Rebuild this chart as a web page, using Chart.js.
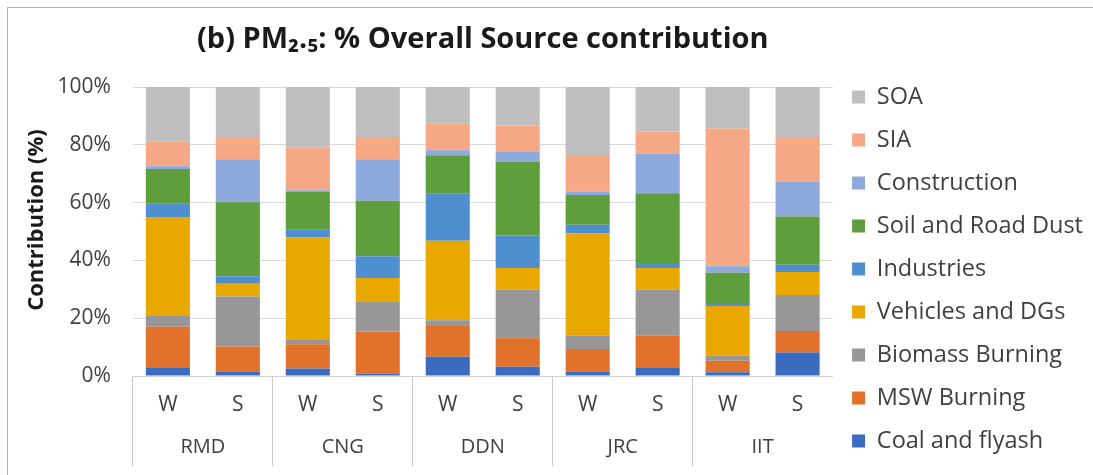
<!DOCTYPE html>
<html>
<head>
<meta charset="utf-8">
<script src="https://cdn.jsdelivr.net/npm/chart.js@4.4.1/dist/chart.umd.min.js"></script>
<style>
  html, body { margin: 0; padding: 0; background: #fff; overflow: hidden; }
  #wrap { position: relative; width: 1093px; height: 475px; }
  #frame { position: absolute; left: 7px; top: 7px; width: 1200px; height: 600px; border: 1px solid #b0b0b0; box-sizing: border-box; pointer-events: none; }
  canvas { position: absolute; left: 0; top: 0; }
</style>
</head>
<body>
<div id="wrap">
  <canvas id="c" width="1093" height="475"></canvas>
  <div id="frame"></div>
</div>
<script>
const sites = ['RMD', 'CNG', 'DDN', 'JRC', 'IIT'];
const seasons = ['W', 'S', 'W', 'S', 'W', 'S', 'W', 'S', 'W', 'S'];

const coalFlyash   = [3.0, 1.6, 2.6, 0.9, 6.7, 3.2, 1.6, 2.8, 1.3, 8.1];
const mswBurning   = [14.0, 8.6, 8.4, 14.5, 10.6, 9.9, 7.7, 11.1, 4.0, 7.5];
const biomass      = [4.0, 17.3, 1.7, 10.5, 2.0, 16.8, 4.6, 16.0, 1.7, 12.4];
const vehiclesDGs  = [34.0, 4.4, 35.2, 8.0, 27.5, 7.5, 35.5, 7.5, 17.2, 8.0];
const industries   = [4.6, 2.6, 2.7, 7.5, 16.4, 11.2, 2.9, 1.7, 1.1, 2.5];
const soilRoadDust = [12.0, 25.6, 13.2, 19.2, 13.2, 25.5, 10.3, 24.1, 10.4, 16.7];
const construction = [1.0, 14.9, 0.5, 14.4, 1.7, 3.4, 1.2, 13.8, 2.3, 12.0];
const sia          = [8.6, 7.7, 14.7, 7.7, 9.2, 9.2, 12.3, 7.6, 47.6, 15.5];
const soa          = [18.8, 17.3, 21.0, 17.3, 12.7, 13.3, 23.9, 15.4, 14.4, 17.3];

const yTicks = [0, 20, 40, 60, 80, 100];

const series = [
  ['Coal and flyash', coalFlyash, '#3b6bbf'],
  ['MSW Burning', mswBurning, '#e2712b'],
  ['Biomass Burning', biomass, '#979797'],
  ['Vehicles and DGs', vehiclesDGs, '#e8a800'],
  ['Industries', industries, '#4f8fd0'],
  ['Soil and Road Dust', soilRoadDust, '#5e9e3c'],
  ['Construction', construction, '#8ea9db'],
  ['SIA', sia, '#f4a886'],
  ['SOA', soa, '#bfbfbf']
];

const FONT = "'Open Sans', 'Liberation Sans', sans-serif";

new Chart(document.getElementById('c'), {
  type: 'bar',
  data: {
    labels: seasons,
    datasets: series.map(([label, data, color]) => ({
      label, data, backgroundColor: color, borderWidth: 0,
      barPercentage: 0.63, categoryPercentage: 1.0
    }))
  },
  options: {
    responsive: false,
    animation: false,
    layout: { padding: { left: 0, right: 0, top: 0, bottom: 0 } },
    plugins: {
      title: {
        display: true,
        fullSize: false,
        text: '(b) PM\u2082.\u2085: % Overall Source contribution',
        color: '#1a1a1a',
        font: { family: FONT, size: 29, weight: 'bold' },
        padding: { top: 22.6, bottom: 29.6 }
      },
      legend: {
        position: 'right',
        align: 'start',
        reverse: true,
        title: { display: true, text: ' ', font: { size: 1 }, padding: { top: 64.6, bottom: 0 } },
        labels: {
          color: '#404040',
          font: { family: FONT, size: 23.5 },
          boxWidth: 13, boxHeight: 13,
          padding: 19.5
        }
      },
      tooltip: { enabled: false }
    },
    scales: {
      x: {
        stacked: true,
        offset: true,
        grid: {
          offset: true,
          drawOnChartArea: false,
          tickLength: 90,
          color: ctx => (ctx.index % 2 === 0 ? '#c8c8c8' : 'rgba(0,0,0,0)')
        },
        border: { display: true, color: '#d0d0d0' },
        ticks: { color: '#404040', font: { family: FONT, size: 21 }, padding: -74 },
        title: { display: true, text: ' ', font: { size: 2 }, padding: { top: 73, bottom: 0 } }
      },
      x2: {
        type: 'category',
        labels: sites,
        position: 'bottom',
        offset: true,
        grid: { display: false, drawTicks: false, offset: true },
        border: { display: false },
        ticks: { color: '#404040', font: { family: FONT, size: 20 }, padding: 16.2 }
      },
      y: {
        stacked: true,
        min: 0, max: 100,
        afterBuildTicks: axis => { axis.ticks = yTicks.map(v => ({ value: v })); },
        grid: { color: '#d9d9d9', drawTicks: false },
        border: { display: false },
        ticks: { color: '#404040', font: { family: FONT, size: 21 }, padding: 22, callback: v => v + '%' },
        title: {
          display: true, text: '    Contribution (%)', color: '#1a1a1a',
          font: { family: FONT, size: 22, weight: 'bold' }, padding: { top: 23.8, bottom: -14.7 }
        }
      }
    }
  }
});
</script>
</body>
</html>
